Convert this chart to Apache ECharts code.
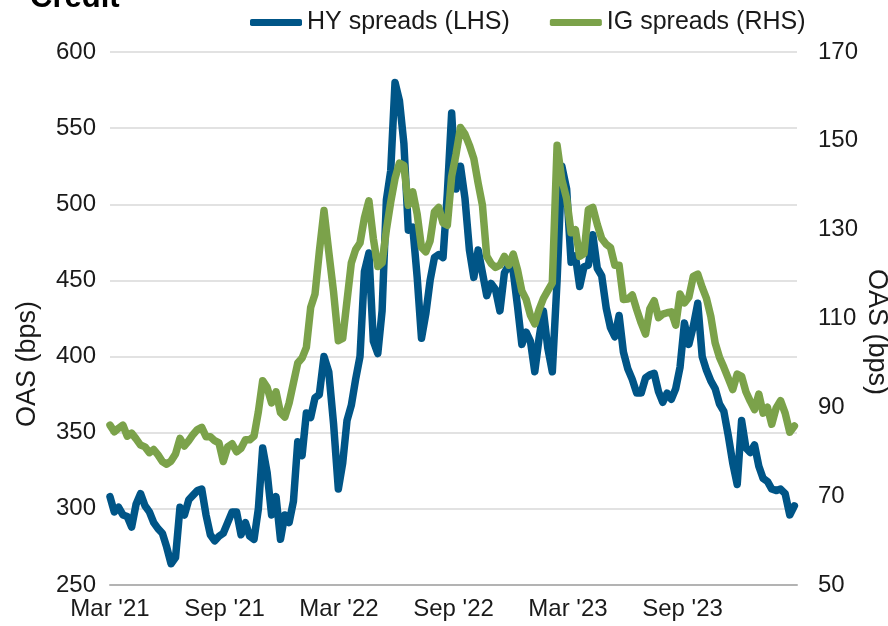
<!DOCTYPE html>
<html>
<head>
<meta charset="utf-8">
<script src="https://cdn.jsdelivr.net/npm/echarts@6/dist/echarts.min.js"></script>
<style>
html,body{margin:0;padding:0;background:#fff;}
#chart{width:888px;height:626px;}
</style>
</head>
<body>
<div id="chart"></div>
<script>
// Weekly observations starting 2021-03-01
const startDate = '2021-03-01';
const seriesNames = ['HY spreads (LHS)', 'IG spreads (RHS)'];
const tickLabels = ["Mar '21", "Sep '21", "Mar '22", "Sep '22", "Mar '23", "Sep '23"];
const leftTicks = [250, 600, 50];   // min, max, step
const rightTicks = [50, 170, 20];   // min, max, step

const hySpreads = [
  308,298,301,296,295,288,303,310,302,298,
  291,287,284,275,264,268,301,296,306,309,
  312,313,296,283,279,282,284,291,298,298,
  283,291,282,280,300,340,324,296,308,280,
  296,291,305,344,335,363,360,373,375,
  400,390,356,313,330,358,368,385,400,456,
  468,410,402,430,503,522,580,568,540,483,
  485,452,412,428,450,465,467,465,507,560,
  510,525,504,470,452,470,455,440,448,444,
  430,455,460,456,433,408,416,410,390,412,
  430,406,390,450,525,510,462,466,446,459,
  460,480,458,453,432,419,413,427,403,
  392,385,376,376,386,388,389,377,370,376,
  372,379,393,422,408,420,435,400,391,384,
  379,369,364,348,330,316,358,340,337,342,
  328,320,318,313,312,313,310,296,302
];

const igSpreads = [
  86.0,84.5,85.3,86.0,83.5,84.2,82.9,81.5,81.1,79.8,
  80.5,79.3,77.8,77.2,77.9,79.5,83.0,81.3,82.5,83.9,
  85.0,85.5,83.4,83.4,82.5,82.0,77.8,81.1,81.8,80.0,
  80.8,82.7,82.7,83.5,89.0,96.0,94.5,91.0,93.5,88.8,
  87.8,91.0,95.5,100.0,101.1,103.5,112.5,115.5,125.0,
  134.3,125.0,116.0,105.0,105.5,114.0,122.5,125.5,127.0,132.7,
  136.5,128.0,121.7,122.5,130.0,136.2,141.5,145.0,144.5,135.5,
  138.5,133.5,126.0,125.0,127.5,134.0,135.0,131.5,131.0,142.0,
  147.0,153.0,151.5,149.0,146.0,140.5,135.5,124.0,122.4,121.5,
  122.0,124.0,122.0,124.5,121.0,116.2,114.3,110.7,108.8,112.0,
  114.5,116.2,118.0,149.0,141.2,137.0,129.3,130.0,124.0,124.6,
  134.5,135.0,131.2,128.0,126.7,126.0,122.0,122.0,114.3,
  114.4,115.3,112.0,109.0,106.5,112.2,114.0,110.2,111.0,111.3,
  111.5,108.5,115.5,113.5,114.8,119.5,120.0,117.0,114.5,110.5,
  104.5,101.3,99.0,96.5,94.0,97.5,97.0,93.5,91.4,89.5,
  93.0,88.7,90.0,86.2,89.8,91.5,88.7,84.4,85.8
];

// convert each weekly date to months elapsed since March 2021
function monthsSinceStart(i) {
  const s = new Date(startDate + 'T00:00:00Z');
  const d = new Date(s.getTime() + i * 7 * 86400000);
  const y = d.getUTCFullYear(), m = d.getUTCMonth(), day = d.getUTCDate();
  const dim = new Date(Date.UTC(y, m + 1, 0)).getUTCDate();
  return (y - s.getUTCFullYear()) * 12 + (m - s.getUTCMonth()) + (day - 1) / dim;
}
const hyData = hySpreads.map((v, i) => [monthsSinceStart(i), v]);
const igData = igSpreads.map((v, i) => [monthsSinceStart(i), v]);

const FONT = '"Liberation Sans", Arial, sans-serif';
const TXT = '#1a1a1a';
const BLUE = '#005587';
const GREEN = '#7ba24a';

const chart = echarts.init(document.getElementById('chart'), null, {renderer: 'canvas'});
chart.setOption({
  animation: false,
  backgroundColor: '#ffffff',
  textStyle: {fontFamily: FONT},
  grid: {left: 110, right: 91, top: 52, bottom: 41, containLabel: false},
  legend: {
    data: seriesNames,
    left: 250, top: 10, padding: 0,
    icon: 'roundRect', itemWidth: 52, itemHeight: 7, itemGap: 40,
    textStyle: {fontSize: 25, color: TXT, fontFamily: FONT}
  },
  graphic: [
    {type: 'text', left: 30, top: -17, style: {text: 'Credit', font: 'bold 31px "Liberation Sans", Arial, sans-serif', fill: '#000'}},
    {type: 'text', x: 28, y: 364, rotation: Math.PI / 2,
      style: {text: 'OAS (bps)', font: '27px "Liberation Sans", Arial, sans-serif', fill: TXT, align: 'center', verticalAlign: 'middle'}},
    {type: 'text', x: 876, y: 332, rotation: -Math.PI / 2,
      style: {text: 'OAS (bps)', font: '27px "Liberation Sans", Arial, sans-serif', fill: TXT, align: 'center', verticalAlign: 'middle'}}
  ],
  xAxis: {
    type: 'value', min: 0, max: 36, interval: 6,
    axisLine: {show: true, lineStyle: {color: '#b3b3b3', width: 2}},
    axisTick: {show: false},
    splitLine: {show: false},
    axisLabel: {
      fontSize: 24, color: TXT, margin: 12, showMaxLabel: false,
      formatter: v => tickLabels[Math.round(v / 6)] || ''
    }
  },
  yAxis: [
    {
      type: 'value', min: leftTicks[0], max: leftTicks[1], interval: leftTicks[2],
      axisLine: {show: false}, axisTick: {show: false},
      splitLine: {lineStyle: {color: '#d9d9d9', width: 1.5}},
      axisLabel: {fontSize: 24, color: TXT, margin: 14}
    },
    {
      type: 'value', min: rightTicks[0], max: rightTicks[1], interval: rightTicks[2],
      position: 'right',
      axisLine: {show: false}, axisTick: {show: false},
      splitLine: {show: false},
      axisLabel: {fontSize: 24, color: TXT, margin: 21}
    }
  ],
  series: [
    {name: seriesNames[0], type: 'line', yAxisIndex: 0, data: hyData, showSymbol: false, symbol: 'none',
      lineStyle: {color: BLUE, width: 7.5, join: 'round', cap: 'round'}, itemStyle: {color: BLUE}},
    {name: seriesNames[1], type: 'line', yAxisIndex: 1, data: igData, showSymbol: false, symbol: 'none',
      lineStyle: {color: GREEN, width: 7.5, join: 'round', cap: 'round'}, itemStyle: {color: GREEN}}
  ]
});
</script>
</body>
</html>
